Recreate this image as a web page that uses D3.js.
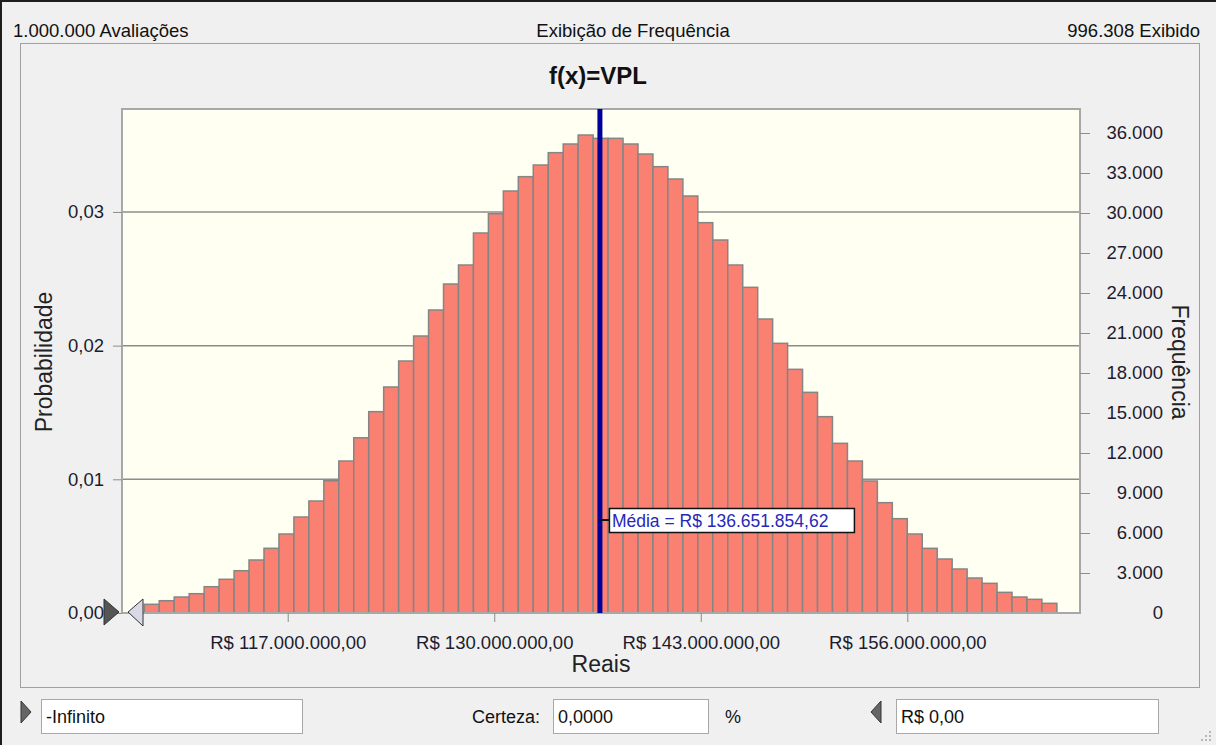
<!DOCTYPE html>
<html>
<head>
<meta charset="utf-8">
<script src="https://cdn.jsdelivr.net/npm/d3@7"></script>
<style>
  body { margin: 0; background: #f0f0f0; }
  svg { display: block; font-family: "Liberation Sans", Arial, sans-serif; }
</style>
</head>
<body>
<svg id="chart" width="1216" height="745"></svg>
<script>
// frequencias por classe (leitura do grafico), 61 classes
const freqs = [652, 922, 1200, 1448, 1972, 2528, 3172, 3975, 4852, 5925,
  7200, 8400, 9922, 11400, 13140, 15100, 16950, 18900, 20775, 22725,
  24675, 26100, 28500, 29950, 31650, 32725, 33600, 34525, 35175, 35850,
  35600, 35600, 35175, 34425, 33475, 32550, 31275, 29275, 27975, 26100,
  24425, 22050, 20225, 18275, 16550, 14725, 12725, 11400, 9900, 8275,
  7075, 5925, 4850, 4050, 3300, 2625, 2225, 1550, 1200, 1025, 725];
const binStart = 107974000;
const binWidth = 941660;
const xDomain = [106570000, 166870000];
const xTicks = [117000000, 130000000, 143000000, 156000000];
const probTicks = [0, 0.01, 0.02, 0.03];
const freqTicks = [0, 3000, 6000, 9000, 12000, 15000, 18000, 21000, 24000, 27000, 30000, 33000, 36000];
const probMax = 0.0377;
const freqMax = 37800;
const media = 136651854.62;
const avaliacoes = 1000000;
const exibido = 996308;

const svg = d3.select('#chart');
const W = 1216, H = 745;
const pL = 122, pR = 1080, pT = 109, pB = 613;

const ptBR = d3.formatLocale({decimal: ',', thousands: '.', grouping: [3], currency: ['R$ ', '']});
const fmtInt = ptBR.format(',d');
const fmtMoney = ptBR.format('$,.2f');
const fmtProb = ptBR.format('.2f');

const x = d3.scaleLinear().domain(xDomain).range([pL, pR]);
const yP = d3.scaleLinear().domain([0, probMax]).range([pB, pT]);
const yF = d3.scaleLinear().domain([0, freqMax]).range([pB, pT]);

// fundo e molduras
svg.append('rect').attr('width', W).attr('height', H).attr('fill', '#f0f0f0');
svg.append('path').attr('d', `M1,${H} V1 H${W}`).attr('stroke', '#1e1e1e').attr('stroke-width', 2).attr('fill', 'none');
svg.append('rect').attr('x', 20.5).attr('y', 43.5).attr('width', 1179).attr('height', 644)
  .attr('fill', 'none').attr('stroke', '#a0a0a0');

// cabecalho
const head = svg.append('g').style('font-size', '18.5px').attr('fill', '#111');
head.append('text').attr('x', 13).attr('y', 37).text(fmtInt(avaliacoes) + ' Avaliações');
head.append('text').attr('x', 633).attr('y', 37).attr('text-anchor', 'middle').text('Exibição de Frequência');
head.append('text').attr('x', 1200).attr('y', 37).attr('text-anchor', 'end').text(fmtInt(exibido) + ' Exibido');

svg.append('text').attr('x', 598).attr('y', 84).attr('text-anchor', 'middle')
  .style('font-size', '24px').style('font-weight', 'bold').attr('fill', '#111').text('f(x)=VPL');

// area do grafico
svg.append('rect').attr('x', pL).attr('y', pT).attr('width', pR - pL).attr('height', pB - pT)
  .attr('fill', '#fffff2');

// grades
svg.append('g').selectAll('line').data(probTicks.slice(1)).join('line')
  .attr('x1', pL).attr('x2', pR).attr('y1', d => yP(d)).attr('y2', d => yP(d))
  .attr('stroke', '#8c8c8c').attr('stroke-width', 1.5);

// barras
svg.append('g').selectAll('rect').data(freqs).join('rect')
  .attr('x', (d, i) => x(binStart + i * binWidth))
  .attr('width', x(binStart + binWidth) - x(binStart))
  .attr('y', d => yF(d))
  .attr('height', d => pB - yF(d))
  .attr('fill', '#fa8072').attr('stroke', '#858585').attr('stroke-width', 1.5);

// borda
svg.append('rect').attr('x', pL).attr('y', pT).attr('width', pR - pL).attr('height', pB - pT)
  .attr('fill', 'none').attr('stroke', '#a8a8a8').attr('stroke-width', 2);

// eixos
const axisStyle = g => {
  g.select('.domain').remove();
  g.selectAll('.tick line').attr('stroke', '#8c8c8c');
  g.selectAll('.tick text').attr('fill', '#1c1c2e').style('font-size', '18.5px')
    .style('font-family', '"Liberation Sans", Arial, sans-serif');
};
svg.append('g').attr('transform', `translate(0,${pB})`)
  .call(d3.axisBottom(x).tickValues(xTicks).tickSize(9).tickPadding(14).tickFormat(fmtMoney))
  .call(axisStyle);
svg.append('g').attr('transform', `translate(${pL},0)`)
  .call(d3.axisLeft(yP).tickValues(probTicks).tickSize(9).tickPadding(9).tickFormat(fmtProb))
  .call(axisStyle);
const ra = svg.append('g').attr('transform', `translate(${pR},0)`)
  .call(d3.axisRight(yF).tickValues(freqTicks).tickSize(10).tickPadding(22).tickFormat(d => d ? fmtInt(d) : '0'))
  .call(axisStyle);
ra.selectAll('.tick text').attr('text-anchor', 'end').attr('x', 83);
ra.selectAll('.tick line').filter(d => d === 0).remove();

// titulos dos eixos
svg.append('text').attr('transform', 'translate(52,362) rotate(-90)').attr('text-anchor', 'middle')
  .style('font-size', '23px').attr('fill', '#222').text('Probabilidade');
svg.append('text').attr('transform', 'translate(1172,362) rotate(90)').attr('text-anchor', 'middle')
  .style('font-size', '23px').attr('fill', '#222').text('Frequência');
svg.append('text').attr('x', 601).attr('y', 672).attr('text-anchor', 'middle')
  .style('font-size', '23px').attr('fill', '#222').text('Reais');

// linha da media
const xm = x(media);
svg.append('line').attr('x1', xm).attr('x2', xm).attr('y1', pT).attr('y2', pB)
  .attr('stroke', '#00009a').attr('stroke-width', 5);
svg.append('line').attr('x1', xm).attr('x2', xm + 9).attr('y1', 520).attr('y2', 520)
  .attr('stroke', '#111').attr('stroke-width', 2);
svg.append('rect').attr('x', xm + 9.5).attr('y', 508.5).attr('width', 245).attr('height', 24)
  .attr('fill', '#fff').attr('stroke', '#111').attr('stroke-width', 1.5);
svg.append('text').attr('x', xm + 12).attr('y', 527).style('font-size', '17.5px').attr('fill', '#2828b8')
  .text('Média = ' + fmtMoney(media));

// marcadores
const tri = (pts, fill) => svg.append('polygon').attr('points', pts.map(p => p.join(',')).join(' '))
  .attr('fill', fill).attr('stroke', '#333').attr('stroke-width', 1);
tri([[104, 599], [119, 612], [104, 625]], '#555');
tri([[143, 599], [128, 612], [143, 626]], '#d8d8e6');

// controles inferiores
tri([[21, 701], [31, 712], [21, 723]], '#666');
tri([[881, 701], [871, 712], [881, 723]], '#666');
const box = (bx, bw, t) => {
  svg.append('rect').attr('x', bx + 0.5).attr('y', 699.5).attr('width', bw).attr('height', 34)
    .attr('fill', '#fff').attr('stroke', '#a8a8a8');
  svg.append('text').attr('x', bx + 5).attr('y', 723).style('font-size', '18px').attr('fill', '#111').text(t);
};
box(41, 261, '-Infinito');
box(553, 155, '0,0000');
box(896, 262, 'R$ 0,00');
svg.append('text').attr('x', 540).attr('y', 723).attr('text-anchor', 'end').style('font-size', '18px').attr('fill', '#111').text('Certeza:');
svg.append('text').attr('x', 725).attr('y', 723).style('font-size', '18px').attr('fill', '#111').text('%');

// alca de redimensionar
const grip = [[1209, 731], [1205, 735], [1209, 735], [1201, 739], [1205, 739], [1209, 739]];
svg.append('g').selectAll('rect').data(grip).join('rect')
  .attr('x', d => d[0]).attr('y', d => d[1]).attr('width', 2).attr('height', 2).attr('fill', '#b8b8b8');
</script>
</body>
</html>
